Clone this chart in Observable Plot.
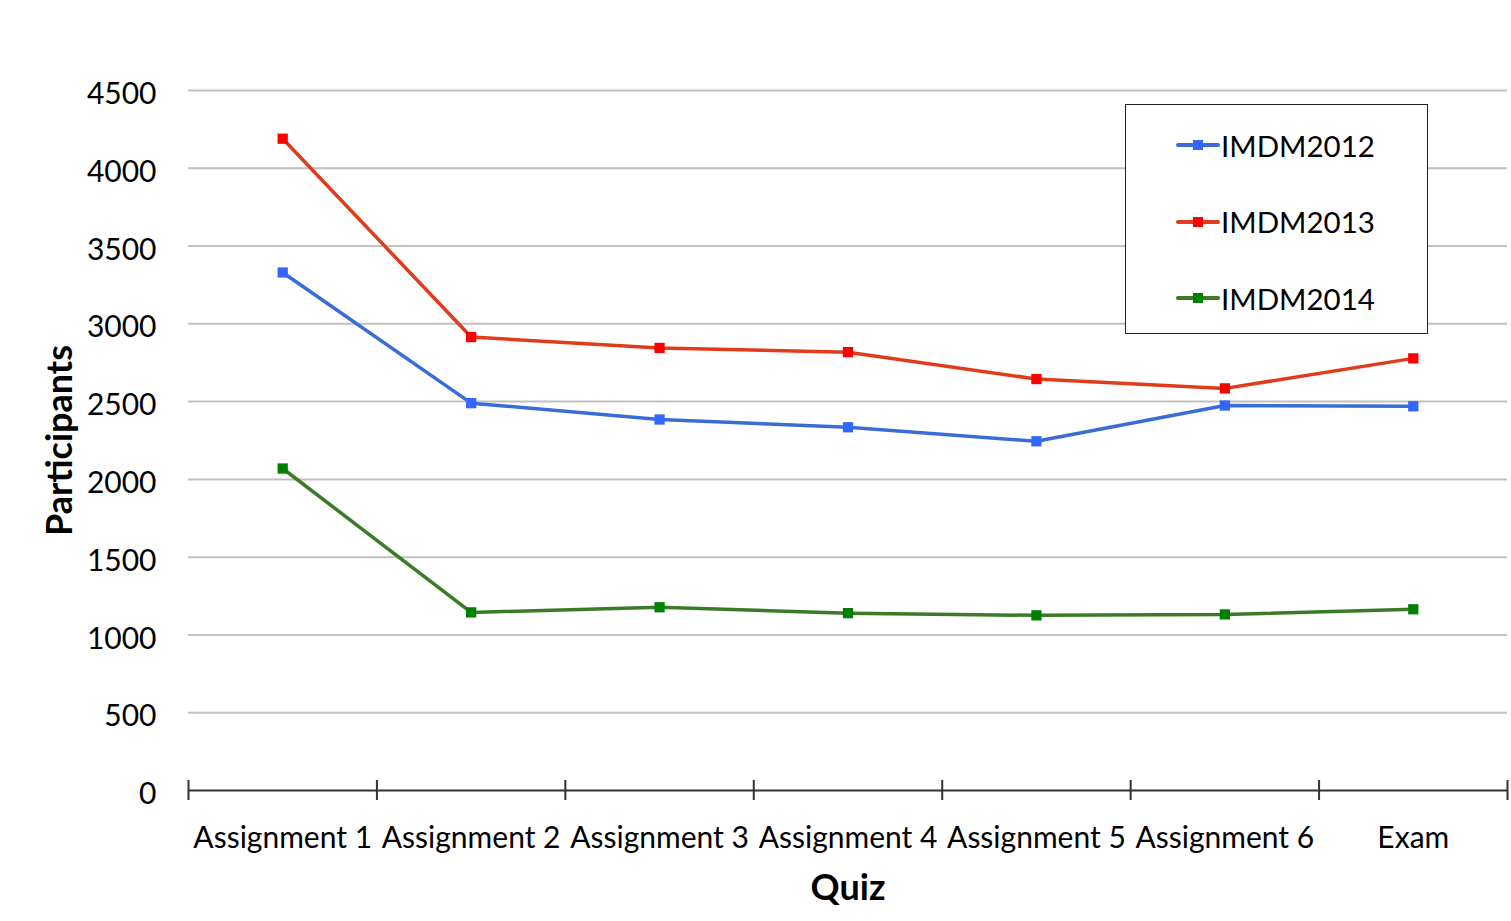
<!DOCTYPE html>
<html>
<head>
<meta charset="utf-8">
<script src="https://cdn.jsdelivr.net/npm/d3@7"></script>
<script src="https://cdn.jsdelivr.net/npm/@observablehq/plot@0.6"></script>
<style>
  html, body { margin: 0; padding: 0; background: #fff; }
  #wrap { position: relative; width: 1511px; height: 921px; font-family: Lato, "Open Sans", sans-serif; }
  #legend { position: absolute; left: 1125px; top: 104px; width: 303px; height: 230px; border: 1.5px solid #222; background: #fff; box-sizing: border-box; }
  .item { position: absolute; left: 50px; height: 30px; display: flex; align-items: center; font-size: 29.5px; color: #000; }
  .swatch { position: relative; width: 44px; height: 30px; margin-right: 1px; }
  .swatch .ln { position: absolute; left: 0; right: 0; top: 13px; height: 4px; border-radius: 2px; }
  .swatch .mk { position: absolute; left: 17px; top: 10px; width: 10px; height: 10px; }
</style>
</head>
<body>
<div id="wrap"></div>
<script>
const quizzes = ["Assignment 1", "Assignment 2", "Assignment 3", "Assignment 4", "Assignment 5", "Assignment 6", "Exam"];
const seriesNames = ["IMDM2012", "IMDM2013", "IMDM2014"];
const imdm2012 = [3330, 2490, 2385, 2335, 2245, 2475, 2470];
const imdm2013 = [4190, 2915, 2845, 2818, 2645, 2585, 2778];
const imdm2014 = [2070, 1145, 1178, 1140, 1126, 1132, 1165];
const yTicks = [0, 500, 1000, 1500, 2000, 2500, 3000, 3500, 4000, 4500];

const lineColors = ["#3a6cd8", "#e03c1c", "#3c7a28"];
const markColors = ["#3366ff", "#ff0000", "#008000"];

const values = [imdm2012, imdm2013, imdm2014];
const data = [];
seriesNames.forEach((s, si) => {
  quizzes.forEach((q, qi) => data.push({series: s, idx: qi + 0.5, quiz: q, value: values[si][qi]}));
});
const boundaries = d3.range(quizzes.length + 1);

const chart = Plot.plot({
  width: 1511,
  height: 921,
  marginLeft: 188,
  marginRight: 4,
  marginTop: 90,
  marginBottom: 131,
  style: {fontFamily: "Lato, 'Open Sans', sans-serif", fontSize: "30px", color: "#000", background: "#fff"},
  x: {type: "linear", domain: [0, quizzes.length]},
  y: {domain: [0, 4500]},
  color: {domain: seriesNames, range: lineColors},
  marks: [
    Plot.ruleY(yTicks.filter(d => d > 0), {stroke: "#c0c0c0", strokeWidth: 2}),
    Plot.axisY({ticks: yTicks, tickFormat: d => String(d), tickSize: 0, tickPadding: 32, dy: 4, label: null, fontSize: 30}),
    Plot.axisX({ticks: quizzes.map((q, i) => i + 0.5), tickFormat: d => quizzes[Math.floor(d)], tickSize: 0, tickPadding: 36, label: null, fontSize: 30}),
    Plot.ruleY([0], {stroke: "#333", strokeWidth: 2}),
    Plot.ruleX(boundaries, {x: d => d, y1: 0, y2: 0, insetTop: -10, insetBottom: -10, stroke: "#333", strokeWidth: 2}),
    Plot.line(data, {x: "idx", y: "value", z: "series", stroke: "series", strokeWidth: 3.5}),
    Plot.dot(data, {x: "idx", y: "value", symbol: "square", r: 5.8, fill: d => markColors[seriesNames.indexOf(d.series)], stroke: null}),
    Plot.text(["Participants"], {frameAnchor: "left", textAnchor: "middle", lineAnchor: "middle", rotate: -90, dx: -128, fontSize: 36, fontWeight: "bold", fill: "#000", letterSpacing: 0.6}),
    Plot.text(["Quiz"], {frameAnchor: "bottom", lineAnchor: "middle", dy: 98, fontSize: 36, fontWeight: "bold", fill: "#000", letterSpacing: 0.6})
  ]
});
const wrap = document.getElementById("wrap");
wrap.appendChild(chart);

const legend = document.createElement("div");
legend.id = "legend";
seriesNames.forEach((s, i) => {
  const item = document.createElement("div");
  item.className = "item";
  item.style.top = (25 + i * 76.5) + "px";
  item.innerHTML = `<span class="swatch"><span class="ln" style="background:${lineColors[i]}"></span><span class="mk" style="background:${markColors[i]}"></span></span><span>${s}</span>`;
  legend.appendChild(item);
});
wrap.appendChild(legend);
</script>
</body>
</html>
